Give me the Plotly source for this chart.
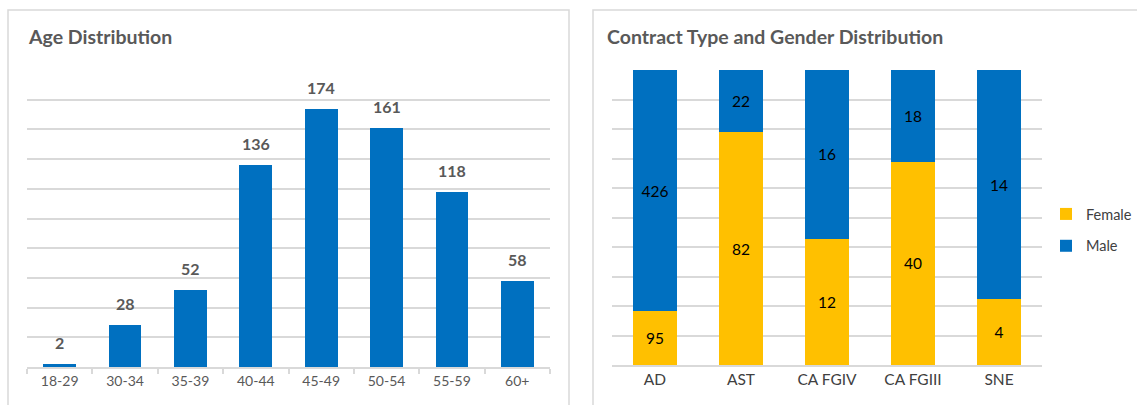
import plotly.graph_objects as go

# Age distribution data
age_groups = ["18-29", "30-34", "35-39", "40-44", "45-49", "50-54", "55-59", "60+"]
age_counts = [2, 28, 52, 136, 174, 161, 118, 58]

# Contract type / gender data
contract_types = ["AD", "AST", "CA FGIV", "CA FGIII", "SNE"]
male_counts = [426, 22, 16, 18, 14]
female_counts = [95, 82, 12, 40, 4]

W, H = 1137, 405
BLUE = "#0070C0"
GOLD = "#FFC000"
GRID = "#D9D9D9"
FONT = "Lato"


def px_x(p):
    return p / W


def px_y(p):
    return 1 - p / H


totals = [m + f for m, f in zip(male_counts, female_counts)]
male_share = [100 * m / t for m, t in zip(male_counts, totals)]
female_share = [100 * f / t for f, t in zip(female_counts, totals)]

fig = go.Figure()

fig.add_trace(go.Bar(
    x=age_groups, y=age_counts, marker=dict(color=BLUE, line=dict(width=0)),
    width=0.5, showlegend=False, xaxis="x", yaxis="y", hoverinfo="x+y",
))

for name, share, counts, color in [
    ("Female", female_share, female_counts, GOLD),
    ("Male", male_share, male_counts, BLUE),
]:
    fig.add_trace(go.Bar(
        name=name, legendgroup=name, x=contract_types, y=share, text=counts,
        texttemplate="%{text}", textposition="inside", insidetextanchor="middle",
        textangle=0, constraintext="none",
        textfont=dict(family=FONT, size=15.5, color="#000000"),
        marker=dict(color=color, line=dict(width=0)), width=0.51,
        xaxis="x2", yaxis="y2",
    ))

annotations = []
# value labels above the age bars
for g, v in zip(age_groups, age_counts):
    annotations.append(dict(
        x=g, y=v, xref="x", yref="y", text=str(v), showarrow=False,
        yanchor="bottom", yshift=10,
        font=dict(family=FONT, size=16, color="#595959", weight="bold"),
    ))

# panel titles
annotations.append(dict(
    x=px_x(26), y=px_y(37), xref="paper", yref="paper", xanchor="left",
    yanchor="middle", text="<b>Age Distribution</b>", showarrow=False,
    font=dict(family=FONT, size=19.5, color="#595959"),
))
annotations.append(dict(
    x=px_x(605), y=px_y(37), xref="paper", yref="paper", xanchor="left",
    yanchor="middle", text="<b>Contract Type and Gender Distribution</b>",
    showarrow=False, font=dict(family=FONT, size=19.5, color="#595959"),
))


def panel_frame(x0, x1, top, close_right=True):
    """Open-bottomed frame in paper coordinates (bottom runs off the page)."""
    path = f"M {px_x(x0)} 0 L {px_x(x0)} {px_y(top)} L {px_x(x1)} {px_y(top)}"
    if close_right:
        path += f" L {px_x(x1)} 0"
    return dict(type="path", xref="paper", yref="paper", path=path,
                line=dict(color=GRID, width=1.5), layer="below")


shapes = [
    panel_frame(8, 569, 10, close_right=True),
    panel_frame(593, 1137, 10, close_right=False),
]

fig.update_layout(
    width=W, height=H, margin=dict(l=0, r=0, t=0, b=0, autoexpand=False),
    paper_bgcolor="white", plot_bgcolor="white",
    barmode="stack",
    font=dict(family=FONT, color="#595959"),
    annotations=annotations, shapes=shapes,
    legend=dict(
        x=px_x(1046), y=px_y(230), xanchor="left", yanchor="middle",
        font=dict(family=FONT, size=14.5, color="#404040"),
        bgcolor="rgba(0,0,0,0)", itemwidth=30, tracegroupgap=10,
        traceorder="reversed+grouped",
    ),
    xaxis=dict(
        domain=[px_x(27), px_x(550)], type="category",
        showline=True, linecolor=GRID, linewidth=1.5,
        ticks="outside", tickson="boundaries", ticklen=5, tickcolor=GRID,
        tickwidth=1.5, showgrid=False,
        tickfont=dict(family=FONT, size=14, color="#595959"),
    ),
    yaxis=dict(
        domain=[px_y(367), px_y(70)], range=[0, 200], dtick=20,
        showticklabels=False, showgrid=True, gridcolor=GRID, gridwidth=1.5,
        zeroline=False,
    ),
    xaxis2=dict(
        domain=[px_x(612), px_x(1042)], type="category", anchor="y2",
        showline=True, linecolor=GRID, linewidth=1.5, ticks="",
        showgrid=False,
        tickfont=dict(family=FONT, size=15.5, color="#404040"),
    ),
    yaxis2=dict(
        domain=[px_y(365), px_y(70)], range=[0, 100], dtick=10, anchor="x2",
        showticklabels=False, showgrid=True, gridcolor=GRID, gridwidth=1.5,
        zeroline=False,
    ),
)

fig.write_html("out.html", post_script="document.body.style.margin='0';")
